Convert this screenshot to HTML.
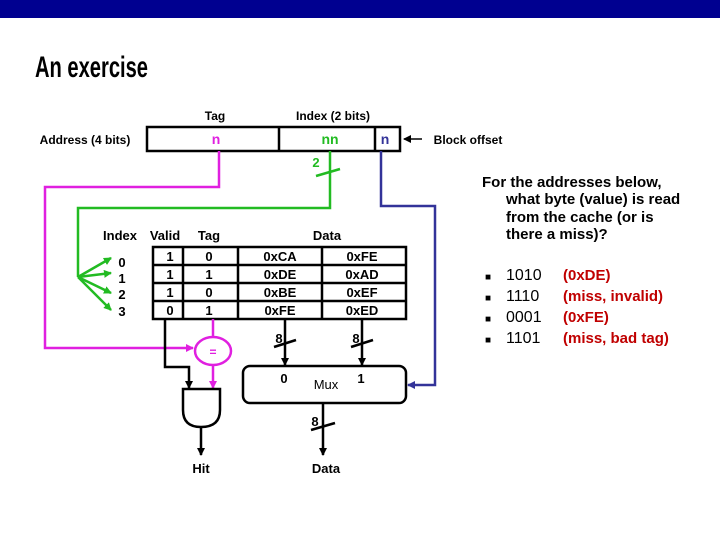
<!DOCTYPE html>
<html><head><meta charset="utf-8"><style>body{margin:0;background:#fff}svg{display:block}</style></head><body>
<svg width="720" height="540" viewBox="0 0 720 540" xmlns="http://www.w3.org/2000/svg" font-family="Liberation Sans, Arial, sans-serif">
<defs>
<marker id="ab" markerWidth="8" markerHeight="8" refX="7" refY="4" orient="auto" markerUnits="userSpaceOnUse"><path d="M0,0 L8,4 L0,8 z" fill="#000"/></marker>
<marker id="am" markerWidth="8" markerHeight="8" refX="7" refY="4" orient="auto" markerUnits="userSpaceOnUse"><path d="M0,0 L8,4 L0,8 z" fill="#e020e0"/></marker>
<marker id="ag" markerWidth="8" markerHeight="8" refX="7" refY="4" orient="auto" markerUnits="userSpaceOnUse"><path d="M0,0 L8,4 L0,8 z" fill="#22bb22"/></marker>
<marker id="an" markerWidth="8" markerHeight="8" refX="7" refY="4" orient="auto" markerUnits="userSpaceOnUse"><path d="M0,0 L8,4 L0,8 z" fill="#333399"/></marker>
</defs>
<rect x="0" y="0" width="720" height="18" fill="#000090"/>
<text x="35" y="77" font-size="30" font-weight="bold" textLength="113" lengthAdjust="spacingAndGlyphs">An exercise</text>

<g font-size="12" font-weight="bold" text-anchor="middle">
<text x="215" y="120">Tag</text>
<text x="333" y="120">Index (2 bits)</text>
<text x="85" y="144">Address (4 bits)</text>
<text x="468" y="144">Block offset</text>
</g>
<rect x="147" y="127" width="253" height="24" fill="#fff" stroke="#000" stroke-width="2.5"/>
<line x1="279" y1="127" x2="279" y2="151" stroke="#000" stroke-width="2.5"/>
<line x1="375" y1="127" x2="375" y2="151" stroke="#000" stroke-width="2.5"/>
<g font-size="14" font-weight="bold" text-anchor="middle">
<text x="216" y="144" fill="#e020e0">n</text>
<text x="330" y="144" fill="#22bb22">nn</text>
<text x="385" y="144" fill="#333399">n</text>
</g>
<line x1="422" y1="139" x2="404" y2="139" stroke="#000" stroke-width="1.5" marker-end="url(#ab)"/>

<polyline points="219,151 219,187 45,187 45,348 193,348" fill="none" stroke="#e020e0" stroke-width="2.5" marker-end="url(#am)"/>
<polyline points="330,151 330,208 78,208 78,277" fill="none" stroke="#22bb22" stroke-width="2.5"/>
<line x1="316" y1="176" x2="340" y2="169" stroke="#22bb22" stroke-width="2.5"/>
<text x="316" y="167" font-size="13" font-weight="bold" fill="#22bb22" text-anchor="middle">2</text>
<g stroke="#22bb22" stroke-width="2.5">
<line x1="78" y1="277" x2="111" y2="258" marker-end="url(#ag)"/>
<line x1="78" y1="277" x2="111" y2="273" marker-end="url(#ag)"/>
<line x1="78" y1="277" x2="111" y2="293" marker-end="url(#ag)"/>
<line x1="78" y1="277" x2="111" y2="310" marker-end="url(#ag)"/>
</g>
<polyline points="381,151 381,206 435,206 435,385 408,385" fill="none" stroke="#333399" stroke-width="2.5" marker-end="url(#an)"/>

<g font-size="13" font-weight="bold" text-anchor="middle">
<text x="120" y="240">Index</text>
<text x="165" y="240">Valid</text>
<text x="209" y="240">Tag</text>
<text x="327" y="240">Data</text>
<text x="122" y="267">0</text>
<text x="122" y="283">1</text>
<text x="122" y="299">2</text>
<text x="122" y="316">3</text>
</g>
<g stroke="#000" stroke-width="2.5" fill="none">
<rect x="153" y="247" width="253" height="72" fill="#fff"/>
<line x1="153" y1="265" x2="406" y2="265"/>
<line x1="153" y1="283" x2="406" y2="283"/>
<line x1="153" y1="301" x2="406" y2="301"/>
<line x1="183" y1="247" x2="183" y2="319"/>
<line x1="238" y1="247" x2="238" y2="319"/>
<line x1="322" y1="247" x2="322" y2="319"/>
</g>
<g font-size="13" font-weight="bold" text-anchor="middle">
<text x="170" y="261">1</text><text x="209" y="261">0</text><text x="280" y="261">0xCA</text><text x="362" y="261">0xFE</text>
<text x="170" y="279">1</text><text x="209" y="279">1</text><text x="280" y="279">0xDE</text><text x="362" y="279">0xAD</text>
<text x="170" y="297">1</text><text x="209" y="297">0</text><text x="280" y="297">0xBE</text><text x="362" y="297">0xEF</text>
<text x="170" y="315">0</text><text x="209" y="315">1</text><text x="280" y="315">0xFE</text><text x="362" y="315">0xED</text>
</g>

<polyline points="165,319 165,367 189,367 189,388" fill="none" stroke="#000" stroke-width="2.5" marker-end="url(#ab)"/>
<line x1="213" y1="319" x2="213" y2="337" stroke="#e020e0" stroke-width="2.5"/>
<ellipse cx="213" cy="351" rx="18" ry="14" fill="#fff" stroke="#e020e0" stroke-width="2.5"/>
<text x="213" y="356" font-size="12" font-weight="bold" fill="#e020e0" text-anchor="middle">=</text>
<line x1="213" y1="365" x2="213" y2="388" stroke="#e020e0" stroke-width="2.5" marker-end="url(#am)"/>
<path d="M183,389 L220,389 L220,410 Q220,427 201,427 Q183,427 183,410 Z" fill="#fff" stroke="#000" stroke-width="2.5"/>
<line x1="201" y1="427" x2="201" y2="455" stroke="#000" stroke-width="2.5" marker-end="url(#ab)"/>
<text x="201" y="473" font-size="13" font-weight="bold" text-anchor="middle">Hit</text>

<g stroke="#000" stroke-width="2.5">
<line x1="285" y1="319" x2="285" y2="365" marker-end="url(#ab)"/>
<line x1="362" y1="319" x2="362" y2="365" marker-end="url(#ab)"/>
<line x1="274" y1="347" x2="296" y2="340"/>
<line x1="351" y1="347" x2="373" y2="340"/>
<line x1="323" y1="403" x2="323" y2="455" marker-end="url(#ab)"/>
<line x1="311" y1="430" x2="335" y2="423"/>
</g>
<rect x="243" y="366" width="163" height="37" rx="7" fill="#fff" stroke="#000" stroke-width="2.5"/>
<g font-size="13" font-weight="bold" text-anchor="middle">
<text x="279" y="343">8</text><text x="356" y="343">8</text><text x="315" y="426">8</text>
<text x="284" y="383">0</text><text x="361" y="383">1</text>
<text x="326" y="389" font-weight="normal">Mux</text>
<text x="326" y="473">Data</text>
</g>

<g font-size="15" font-weight="bold">
<text x="482" y="187">For the addresses below,</text>
<text x="506" y="204">what byte (value) is read</text>
<text x="506" y="222">from the cache (or is</text>
<text x="506" y="239">there a miss)?</text>
<text x="485" y="280" font-size="10">■</text><text x="506" y="280" font-weight="normal" font-size="16">1010</text><text x="563" y="280" fill="#c00000">(0xDE)</text>
<text x="485" y="301" font-size="10">■</text><text x="506" y="301" font-weight="normal" font-size="16">1110</text><text x="563" y="301" fill="#c00000">(miss, invalid)</text>
<text x="485" y="322" font-size="10">■</text><text x="506" y="322" font-weight="normal" font-size="16">0001</text><text x="563" y="322" fill="#c00000">(0xFE)</text>
<text x="485" y="343" font-size="10">■</text><text x="506" y="343" font-weight="normal" font-size="16">1101</text><text x="563" y="343" fill="#c00000">(miss, bad tag)</text>
</g>
</svg>
</body></html>
